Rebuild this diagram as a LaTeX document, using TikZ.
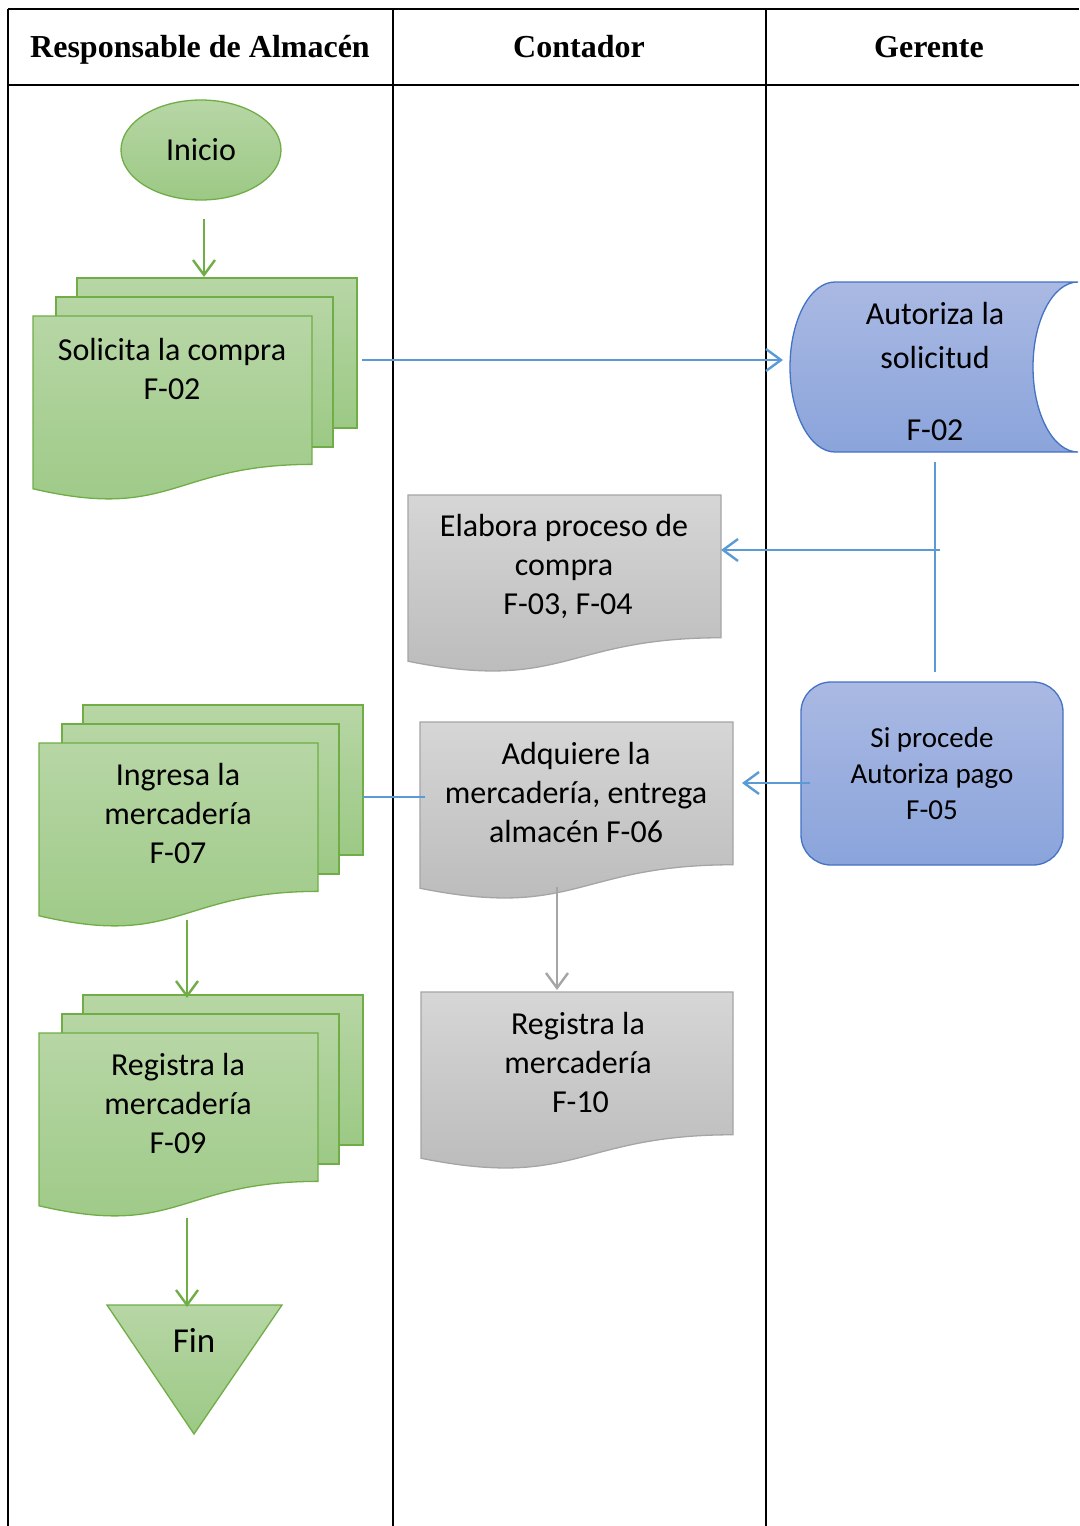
\documentclass[tikz,border=0pt]{standalone}
\usepackage{fontspec}
\setmainfont{Carlito}
\newfontfamily\hdrfont{Liberation Serif}
\usetikzlibrary{arrows.meta,shapes.geometric,calc}
\definecolor{gtop}{HTML}{B7D6A5}
\definecolor{gbot}{HTML}{9CC985}
\definecolor{gline}{HTML}{70AD47}
\definecolor{ktop}{HTML}{D6D6D6}
\definecolor{kbot}{HTML}{B9B9B9}
\definecolor{kline}{HTML}{A5A5A5}
\definecolor{btop}{HTML}{AAB9E3}
\definecolor{bbot}{HTML}{8AA4DB}
\definecolor{bline}{HTML}{4472C4}
\definecolor{cblue}{HTML}{5B9BD5}
\tikzset{
  bx/.style={inner sep=0pt, outer sep=0pt, anchor=north west, draw=none},
  gshape/.style={draw=gline, line width=1.3pt, top color=gtop, bottom color=gbot},
  kshape/.style={draw=kline, line width=1.3pt, top color=ktop, bottom color=kbot},
  bshape/.style={draw=bline, line width=1.3pt, top color=btop, bottom color=bbot},
  txt/.style={font=\fontsize{32}{39}\selectfont, align=center, inner sep=0pt},
  hdr/.style={font=\hdrfont\bfseries\fontsize{32}{38}\selectfont, inner sep=0pt, anchor=base},
  tbl/.style={line width=2pt, black},
  arrtip/.style={-{Straight Barb[length=15pt,width=22pt,line width=2.4pt]}},
  gconn/.style={line width=2.4pt, draw=gline},
  bconn/.style={line width=2.4pt, draw=cblue},
  kconn/.style={line width=2.4pt, draw=kline},
}
\newcommand\docshape[5]{%
  \path[#1] (#2,#3) -- ({#2+#4},#3) -- ({#2+#4},{#3+0.802*#5})
    .. controls ({#2+#4/2},{#3+0.802*#5}) and ({#2+#4/2},{#3+1.1106*#5}) .. (#2,{#3+0.9339*#5}) -- cycle;}
\newcommand\multidoc[3]{%
  \path[#1] ({#2+44},{#3-38}) rectangle ({#2+324},{#3+112});
  \path[#1] ({#2+23},{#3-19}) rectangle ({#2+300},{#3+131});
  \docshape{#1}{#2}{#3}{279}{185}}
\begin{document}
\begin{tikzpicture}[x=1pt,y=-1pt]
\useasboundingbox (0,0) rectangle (1079,1526);
% table
\draw[tbl] (8,9) -- (1079,9);
\draw[tbl] (8,85) -- (1079,85);
\draw[tbl] (8,9) -- (8,1526);
\draw[tbl] (393,9) -- (393,1526);
\draw[tbl] (766,9) -- (766,1526);
\node[hdr] (h1) at (200,57) {Responsable de Almacén};
\node[hdr] (h2) at (579,57) {Contador};
\node[hdr] (h3) at (929,57) {Gerente};

% Inicio
\node[ellipse, gshape, minimum width=160pt, minimum height=100pt, txt] (inicio) at (201,150) {Inicio};

% Solicita la compra
\multidoc{gshape}{33}{316}
\node[bx, minimum width=280pt, minimum height=150pt] (solB) at (77,278) {};
\node[bx, minimum width=279pt, minimum height=185pt] (solF) at (33,316) {};
\node[txt] (solT) at (172,369) {Solicita la compra\\F-02};

% Autoriza la solicitud
\path[bshape] (835,282) -- (1078,282)
  .. controls (1053.2,282) and (1033,320.1) .. (1033,367)
  .. controls (1033,413.9) and (1053.2,452) .. (1078,452)
  -- (835,452)
  .. controls (810.2,452) and (790,413.9) .. (790,367)
  .. controls (790,320.1) and (810.2,282) .. (835,282) -- cycle;
\node[bx, minimum width=288pt, minimum height=170pt] (aut) at (790,282) {};
\node[txt, font=\fontsize{32}{44}\selectfont] (autT) at (935,371) {Autoriza la\\solicitud\\[28pt]F-02};

% Elabora proceso de compra
\docshape{kshape}{408}{495}{313}{178}
\node[bx, minimum width=313pt, minimum height=177pt] (elab) at (408,495) {};
\node[txt] (elabT) at (564,566) {Elabora proceso de\\compra\\\hspace*{8pt}F-03, F-04};

% Si procede
\draw[bshape, rounded corners=30pt] (801,682) rectangle (1063,865);
\node[bx, minimum width=262pt, minimum height=183pt] (sip) at (801,682) {};
\node[txt, font=\fontsize{29}{36}\selectfont] (sipT) at (932,774) {Si procede\\Autoriza pago\\F-05};

% Adquiere
\docshape{kshape}{420}{722}{313}{178}
\node[bx, minimum width=313pt, minimum height=176pt] (adq) at (420,722) {};
\node[txt] (adqT) at (576,792) {Adquiere la\\mercadería, entrega\\almacén F-06};

% Ingresa la mercaderia
\multidoc{gshape}{39}{743}
\node[bx, minimum width=280pt, minimum height=150pt] (ingB) at (83,705) {};
\node[bx, minimum width=279pt, minimum height=185pt] (ingF) at (39,743) {};
\node[txt] (ingT) at (178,813) {Ingresa la\\mercadería\\F-07};

% Registra F-10
\docshape{kshape}{421}{992}{312}{178}
\node[bx, minimum width=312pt, minimum height=176pt] (r10) at (421,992) {};
\node[txt] (r10T) at (578,1062) {Registra la\\mercadería\\\hspace*{5pt}F-10};

% Registra F-09
\multidoc{gshape}{39}{1033}
\node[bx, minimum width=280pt, minimum height=150pt] (r09B) at (83,995) {};
\node[bx, minimum width=279pt, minimum height=185pt] (r09F) at (39,1033) {};
\node[txt] (r09T) at (178,1103) {Registra la\\mercadería\\F-09};

% Fin
\path[gshape] (107,1305) -- (282,1305) -- (194,1434) -- cycle;
\node[bx, minimum width=175pt, minimum height=129pt] (fin) at (107,1305) {};
\node[txt, font=\fontsize{35}{42}\selectfont] (finT) at (194,1340) {Fin};

% connectors
\draw[gconn, arrtip] ($(inicio.south)+(3,18)$) -- ($(solB.north)+(-13,-1)$);
\draw[bconn, arrtip] ($(solB.east)+(5,7)$) -- ($(aut.west)+(-7,-7)$);
\draw[bconn] ($(aut.south)+(1,10)$) -- ($(sip.north)+(3,-10)$);
\coordinate (jn) at (940,550);
\draw[bconn, arrtip] (jn) -- (jn -| elab.east);
\draw[bconn, arrtip] ($(sip.west)+(9,9.5)$) -- ($(adq.east)+(9,-27)$);
\draw[bconn] ($(adq.west)+(5,-13)$) -- ($(ingB.east)+(0,17)$);
\draw[kconn, arrtip] ($(adq.south)+(-19.5,-11)$) -- ($(r10.north)+(-20,-2)$);
\draw[gconn, arrtip] ($(ingF.south)+(8.5,-8)$) -- ($(r09B.north)+(-36,3)$);
\draw[gconn, arrtip] ($(r09F.south)+(8.5,0)$) -- ($(fin.north)+(-7.5,2)$);
\end{tikzpicture}
\end{document}
